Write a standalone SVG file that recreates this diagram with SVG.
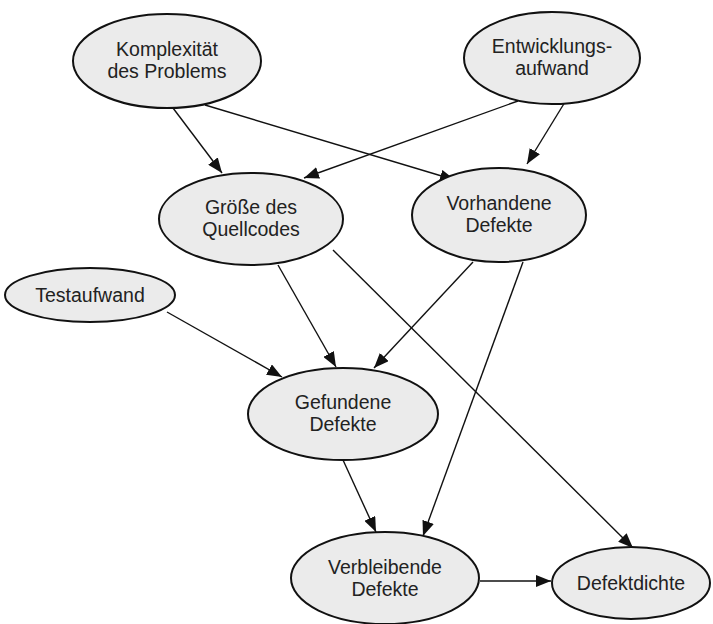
<svg xmlns="http://www.w3.org/2000/svg" width="713" height="624" viewBox="0 0 713 624">
<style>
.n ellipse{fill:#ebebeb;stroke:#111;stroke-width:2}
.n text{font-family:"Liberation Sans",Arial,sans-serif;font-size:19.5px;fill:#222;text-anchor:middle}
.e line{stroke:#111;stroke-width:1.4;marker-end:url(#a)}
</style>
<defs>
<marker id="a" markerUnits="userSpaceOnUse" markerWidth="16" markerHeight="12" refX="15" refY="6" orient="auto">
<path d="M0,0 L15,6 L0,12 Z" fill="#111"/>
</marker>
</defs>
<rect width="713" height="624" fill="#fff"/>
<g class="e">
<line x1="173" y1="108" x2="222" y2="173"/>
<line x1="205" y1="105" x2="455" y2="180"/>
<line x1="518" y1="101" x2="304" y2="178"/>
<line x1="565" y1="102" x2="527" y2="164"/>
<line x1="278" y1="265" x2="336" y2="367"/>
<line x1="473" y1="262" x2="374" y2="368"/>
<line x1="333" y1="250" x2="633" y2="548"/>
<line x1="167" y1="312" x2="282" y2="377"/>
<line x1="523" y1="262" x2="423" y2="536"/>
<line x1="343" y1="460" x2="376" y2="532"/>
<line x1="480" y1="581" x2="551" y2="581"/>
</g>
<g id="komplexitaet" class="n"><ellipse cx="167" cy="61" rx="94" ry="47"/><text x="167" y="56">Komplexität</text><text x="167" y="78">des Problems</text></g>
<g id="entwicklungsaufwand" class="n"><ellipse cx="552" cy="58" rx="88" ry="46"/><text x="552" y="53">Entwicklungs-</text><text x="552" y="75">aufwand</text></g>
<g id="groesse" class="n"><ellipse cx="251" cy="219" rx="92" ry="46"/><text x="251" y="214">Größe des</text><text x="251" y="236">Quellcodes</text></g>
<g id="vorhandene" class="n"><ellipse cx="499" cy="215" rx="87" ry="47"/><text x="499" y="210">Vorhandene</text><text x="499" y="232">Defekte</text></g>
<g id="testaufwand" class="n"><ellipse cx="90" cy="295" rx="85" ry="27"/><text x="90" y="302">Testaufwand</text></g>
<g id="gefundene" class="n"><ellipse cx="343" cy="414" rx="95" ry="46"/><text x="343" y="409">Gefundene</text><text x="343" y="431">Defekte</text></g>
<g id="verbleibende" class="n"><ellipse cx="385" cy="578" rx="94" ry="46"/><text x="385" y="574">Verbleibende</text><text x="385" y="596">Defekte</text></g>
<g id="defektdichte" class="n"><ellipse cx="631" cy="583" rx="79" ry="36"/><text x="631" y="590">Defektdichte</text></g>
</svg>
